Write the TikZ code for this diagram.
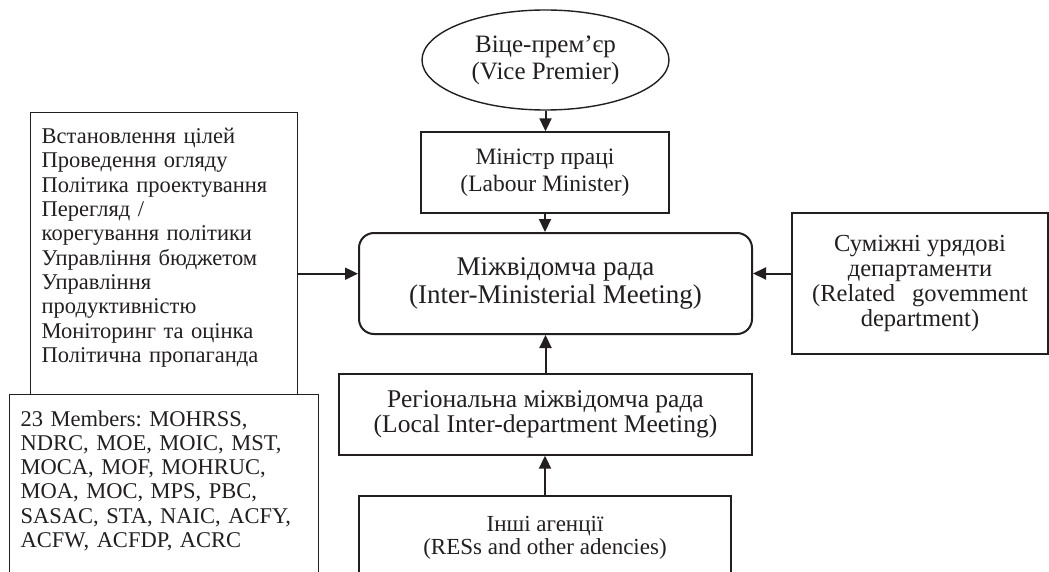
\documentclass[tikz,border=0pt]{standalone}
\usepackage{fontspec}
\setmainfont{Liberation Serif}
\usetikzlibrary{shapes.geometric, arrows.meta, positioning}
\definecolor{Ink}{RGB}{35, 31, 32}
\frenchspacing

\begin{document}
\begin{tikzpicture}[x=1pt, y=-1pt,
    box/.style={rectangle, draw=Ink, line width=1.4pt, text=Ink, align=center, inner sep=0pt, font=\fontsize{24.5}{26.5}\selectfont},
    listbox/.style={box, align=left, anchor=north west, inner xsep=11pt, font=\fontsize{22.5}{24.3}\selectfont},
    link/.style={-{Triangle[length=13pt, width=12pt]}, draw=Ink, line width=2pt}
  ]
  \clip (0,0) rectangle (1049,572);
  \fill[white] (0,0) rectangle (1049,572);

  % centre column
  \node[box, ellipse, minimum width=247pt, minimum height=100pt, font=\fontsize{25}{26.7}\selectfont] (vp) at (545.5,60) {Віце-прем’єр\\(Vice Premier)};
  \node[box, minimum width=248pt, minimum height=81pt, font=\fontsize{23.5}{26.7}\selectfont] (lm) at (545,172.5) {Міністр праці\\(Labour Minister)};
  \node[box, rounded corners=15pt, line width=2pt, minimum width=393pt, minimum height=101pt, font=\fontsize{27}{27.5}\selectfont] (imm) at (555.5,283.5) {Міжвідомча рада\\(Inter-Ministerial Meeting)};
  \node[box, minimum width=413pt, minimum height=81pt, font=\fontsize{25.5}{25.5}\selectfont] (reg) at (545.5,414.5) {Регіональна міжвідомча рада\\(Local Inter-department Meeting)};
  \node[box, minimum width=372pt, minimum height=84pt, font=\fontsize{23}{23.5}\selectfont] (other) at (545,538) {Інші агенції\\(RESs and other adencies)};

  % side boxes
  \node[box, minimum width=256pt, minimum height=141pt, font=\fontsize{24.5}{25}\selectfont] (dept) at (920,283.5) {Суміжні урядові\\департаменти\\(Related\hspace{17pt}govemment\\department)};
  \node[listbox, text width=245pt, minimum height=282pt] (tasks) at (30,112) {Встановлення цілей\\Проведення огляду\\Політика проектування\\Перегляд /\\корегування політики\\Управління бюджетом\\Управління\\продуктивністю\\Моніторинг та оцінка\\Політична пропаганда\par\vspace{12pt}};
  \node[listbox, text width=287pt, minimum height=186pt] (members) at (9,394) {23 Members: MOHRSS,\\NDRC, MOE, MOIC, MST,\\MOCA, MOF, MOHRUC,\\MOA, MOC, MPS, PBC,\\SASAC, STA, NAIC, ACFY,\\ACFW, ACFDP, ACRC\par\vspace{14pt}};

  \draw[link] (vp.south) -- (vp.south |- lm.north);
  \draw[link] (lm.south) -- (lm.south |- imm.north);
  \draw[link] (reg.north) -- (reg.north |- imm.south);
  \draw[link] (other.north) -- (other.north |- reg.south);
  \draw[link] ([yshift=-20pt]tasks.east) -- ([yshift=-20pt]tasks.east -| imm.west);
  \draw[link] ([yshift=10pt]dept.west) -- ([yshift=10pt]dept.west -| imm.east);
\end{tikzpicture}
\end{document}
